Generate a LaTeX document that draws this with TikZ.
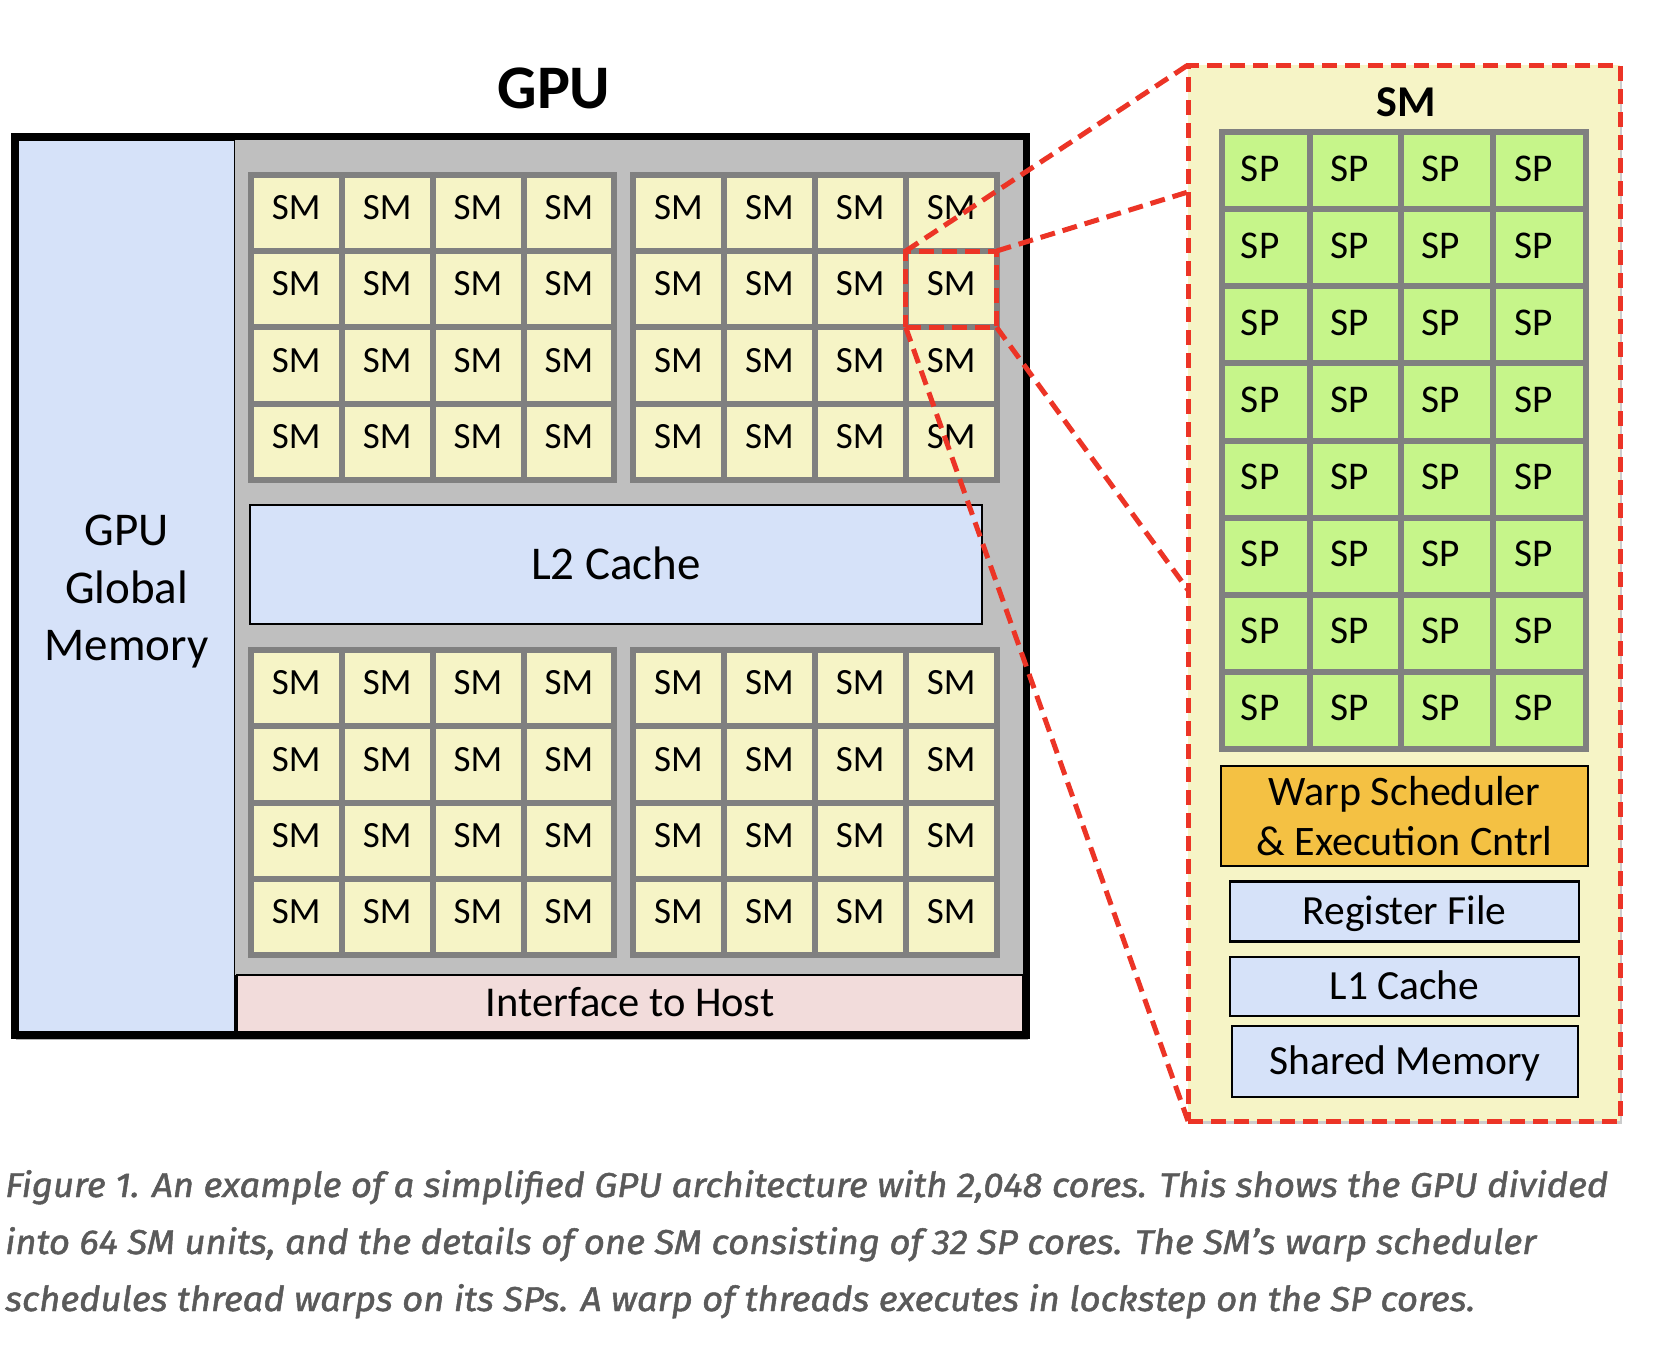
\documentclass[tikz,border=0pt]{standalone}
\usepackage{fontspec}
\usepackage{graphicx}
\setmainfont{Carlito}
\newfontfamily\capfont{Fira Sans}[FakeBold=1.3]
\usetikzlibrary{shadows}
\definecolor{memblue}{HTML}{D6E2F9}
\definecolor{bggray}{HTML}{BFBFBF}
\definecolor{gridgray}{HTML}{808080}
\definecolor{smyellow}{HTML}{F6F4C6}
\definecolor{spgreen}{HTML}{C6F58A}
\definecolor{warporange}{HTML}{F4C143}
\definecolor{hostpink}{HTML}{F2DCDB}
\definecolor{zoomred}{HTML}{EC3426}
\definecolor{capgray}{HTML}{5A5A5A}
\begin{document}
\begin{tikzpicture}[x=1pt,y=-1pt,
  every node/.style={inner sep=0pt, outer sep=0pt},
  capc/.style={text height=#1, text depth=0pt},
  smcell/.style={draw=gridgray, line width=6pt, fill=smyellow,
    minimum width=90.9pt, minimum height=76.3pt,
    font=\fontsize{37}{40}\selectfont, text height=23.4pt, text depth=10pt},
  smgroup/.style={draw=gridgray, line width=6pt, fill=smyellow,
    minimum width=363.6pt, minimum height=305.2pt,
    drop shadow={shadow xshift=1.5pt, shadow yshift=-3pt, opacity=0.35, fill=black}},
  spcell/.style={draw=gridgray, line width=6pt, fill=spgreen,
    minimum height=77.05pt,
    font=\fontsize{39.3}{44}\selectfont, text height=24.8pt, text depth=4pt},
  unitbox/.style={draw=black, line width=2.5pt, fill=memblue,
    font=\fontsize{41.5}{50}\selectfont, capc=26.2pt},
  zoomdash/.style={draw=zoomred, line width=5pt, dash pattern=on 15pt off 8pt},
]
\fill[white] (0,0) rectangle (1664,1350);
\useasboundingbox (0,0) rectangle (1664,1350);

% GPU title
\node[font=\bfseries\fontsize{62}{66}\selectfont, capc=39.5pt] (gputitle) at (554,89) {GPU};

% GPU frame
\node[draw=black, line width=7pt, fill=white, minimum width=1012pt, minimum height=899pt,
  drop shadow={shadow xshift=1.5pt, shadow yshift=-4pt, opacity=0.3, fill=black}]
  (gpu) at (520.5,586) {};

% global memory
\node[draw=black, line width=1.5pt, fill=memblue, minimum width=217pt, minimum height=892pt]
  (gmem) at (126.5,586) {};
\node[font=\fontsize{47}{57.5}\selectfont, align=center] (gmemtext) at (126.7,592) {GPU\\Global\\Memory};

% gray area
\node[fill=bggray, minimum width=788pt, minimum height=835pt] (chip) at (629,557.5) {};

% interface to host
\node[draw=black, line width=2pt, fill=hostpink, minimum width=786pt, minimum height=57pt,
  font=\fontsize{42.5}{46}\selectfont, capc=26.9pt] (host) at (630,1003.5) {Interface to Host};

% L2 cache
\node[draw=black, line width=2pt, fill=memblue, minimum width=731.2pt, minimum height=119pt,
  font=\fontsize{47}{52}\selectfont, capc=29.7pt] (l2) at (616,564.5) {L2 Cache};

% SM groups
\node[smgroup] (grpTL) at (432.6,327.3) {};
\node[smgroup] (grpTR) at (814.8,327.3) {};
\node[smgroup] (grpBL) at (432.6,802.6) {};
\node[smgroup] (grpBR) at (814.8,802.6) {};
\foreach \r in {0,...,3}{
  \foreach \c in {0,...,3}{
    \node[smcell] (tl-\r-\c) at ({250.8+(\c+0.5)*90.9},{174.7+(\r+0.5)*76.3}) {SM};
    \node[smcell] (tr-\r-\c) at ({633+(\c+0.5)*90.9},{174.7+(\r+0.5)*76.3}) {SM};
    \node[smcell] (bl-\r-\c) at ({250.8+(\c+0.5)*90.9},{650+(\r+0.5)*76.3}) {SM};
    \node[smcell] (br-\r-\c) at ({633+(\c+0.5)*90.9},{650+(\r+0.5)*76.3}) {SM};
  }
}

% SM detail box
\node[zoomdash, fill=smyellow, minimum width=432pt, minimum height=1056pt,
  drop shadow={shadow xshift=1.5pt, shadow yshift=-3pt, opacity=0.2, fill=black}]
  (smbig) at (1404,593) {};
\node[font=\bfseries\fontsize{44}{48}\selectfont, capc=27.8pt] (smtitle) at (1406,102.5) {SM};
\foreach \r in {0,...,7}{
  \foreach \c/\xc/\w in {0/1266.15/87.7, 1/1355.35/90.7, 2/1447/92.6, 3/1539.5/92.4}{
    \node[spcell, minimum width=\w pt] (sp-\r-\c) at (\xc,{132.3+(\r+0.5)*77.05}) {\hspace*{-12pt}SP};
  }
}
\node[draw=black, line width=2.5pt, fill=warporange, minimum width=367pt, minimum height=100pt,
  font=\fontsize{42}{50}\selectfont, align=center] (warp) at (1404.5,816)
  {Warp Scheduler\\\& Execution Cntrl};
\node[unitbox, minimum width=349pt, minimum height=60pt] (regfile) at (1404.5,911.7) {Register File};
\node[unitbox, minimum width=349pt, minimum height=59pt] (l1) at (1404.5,986.5) {L1 Cache};
\node[unitbox, minimum width=346pt, minimum height=71pt] (shmem) at (1405,1061.5) {Shared Memory};

% zoom marker and connectors
\node[zoomdash, minimum width=90.9pt, minimum height=76.3pt] (zoomsm) at (tr-1-3.center) {};
\coordinate (smbigA) at (1188,192);
\coordinate (smbigB) at (1188,590);
\draw[zoomdash] (zoomsm.north west) -- (smbig.north west);
\draw[zoomdash] (zoomsm.north east) -- (smbigA);
\draw[zoomdash] (zoomsm.south east) -- (smbigB);
\draw[zoomdash] (zoomsm.south west) -- (smbig.south west);

% caption
\begin{scope}[every node/.style={anchor=base west, inner sep=0pt, text=capgray,
    font=\capfont\itshape\fontsize{34.5}{40}\selectfont}]
\node (cap1) at (5,1197) {\resizebox{1603pt}{\height}{Figure 1. An example of a simplified GPU architecture with 2,048 cores. This shows the GPU divided}};
\node (cap2) at (5,1254) {\resizebox{1531pt}{\height}{into 64 SM units, and the details of one SM consisting of 32 SP cores. The SM’s warp scheduler}};
\node (cap3) at (5,1311) {\resizebox{1470pt}{\height}{schedules thread warps on its SPs. A warp of threads executes in lockstep on the SP cores.}};
\end{scope}
\end{tikzpicture}
\end{document}
